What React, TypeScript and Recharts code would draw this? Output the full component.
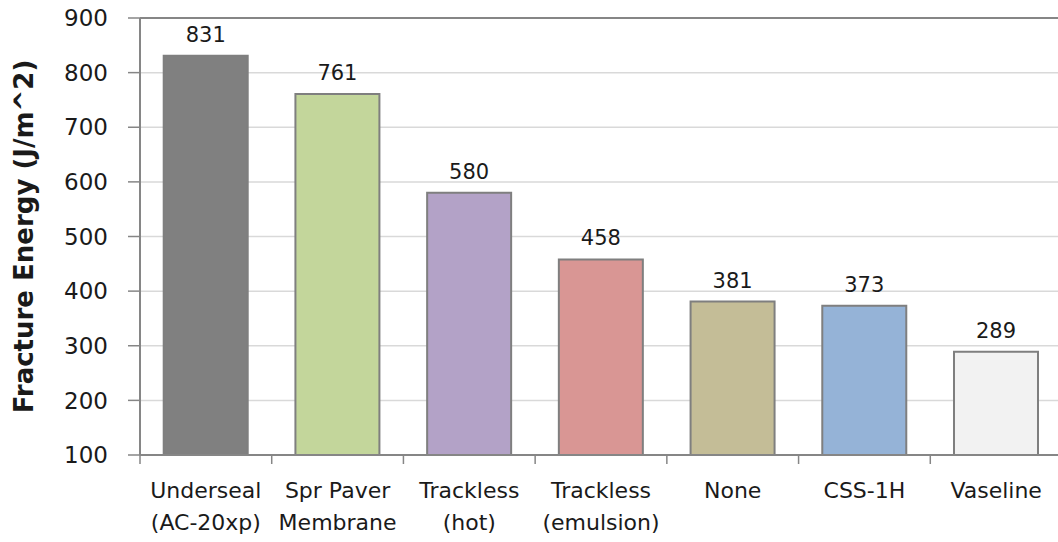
import { BarChart, Bar, XAxis, YAxis, CartesianGrid, Cell, LabelList, ReferenceLine } from 'recharts';

const categories = ['Underseal\n(AC-20xp)', 'Spr Paver\nMembrane', 'Trackless\n(hot)', 'Trackless\n(emulsion)', 'None', 'CSS-1H', 'Vaseline'];
const fractureEnergy = [831, 761, 580, 458, 381, 373, 289];
const barColors = ['#808080', '#c3d69b', '#b3a2c7', '#d99694', '#c4bd97', '#95b3d7', '#f2f2f2'];
const yTicks = [100, 200, 300, 400, 500, 600, 700, 800, 900];

const data = categories.map((name, i) => ({ name, value: fractureEnergy[i] }));

const FONT = '"DejaVu Sans", sans-serif';

function CategoryTick(props: any) {
  const { x, y, payload, index } = props;
  const half = payload?.offset ?? 0;
  const lines = String(payload.value).split('\n');
  return (
    <g>
      <line x1={x - half} y1={y - 8} x2={x - half} y2={y + 1} stroke="#868686" strokeWidth={1.5} />
      {index === categories.length - 1 && (
        <line x1={x + half} y1={y - 8} x2={x + half} y2={y + 1} stroke="#868686" strokeWidth={1.5} />
      )}
      <text x={x} y={y + 35} textAnchor="middle" fontFamily={FONT} fontSize={22} fill="#1a1a1a">
        {lines.map((l, i) => (
          <tspan key={i} x={x} dy={i === 0 ? 0 : 32}>{l}</tspan>
        ))}
      </text>
    </g>
  );
}

export default function App() {
  return (
    <div style={{ position: 'fixed', left: 0, top: 0, width: 1058, height: 542, overflow: 'hidden', background: '#fff' }}>
      <BarChart
        width={1062}
        height={542}
        data={data}
        margin={{ top: 18, right: 0, left: 0, bottom: 0 }}
        barCategoryGap="18%"
      >
        <CartesianGrid horizontal vertical={false} stroke="#d9d9d9" strokeWidth={1.5} />
        <XAxis
          dataKey="name"
          height={87}
          axisLine={{ stroke: '#868686', strokeWidth: 2 }}
          tickLine={false}
          tick={<CategoryTick />}
          interval={0}
        />
        <YAxis
          width={140}
          domain={[100, 900]}
          ticks={yTicks}
          allowDataOverflow
          axisLine={{ stroke: '#868686', strokeWidth: 2 }}
          tickLine={{ stroke: '#868686', strokeWidth: 1.5 }}
          tickSize={12}
          tickMargin={20}
          tick={{ fontFamily: FONT, fontSize: 23, fill: '#1a1a1a' }}
          label={{
            value: 'Fracture Energy (J/m^2)',
            angle: -90,
            position: 'insideLeft',
            dx: 19,
            style: { fontFamily: FONT, fontSize: 26, fontWeight: 'bold', fill: '#1a1a1a', textAnchor: 'middle' },
          }}
        />
        <ReferenceLine y={900} stroke="#868686" strokeWidth={2} />
        <Bar dataKey="value" stroke="#7f7f7f" strokeWidth={2} isAnimationActive={false}>
          {data.map((d, i) => (
            <Cell key={d.name} fill={barColors[i]} />
          ))}
          <LabelList dataKey="value" position="top" offset={14} style={{ fontFamily: FONT, fontSize: 21, fill: '#1a1a1a' }} />
        </Bar>
      </BarChart>
    </div>
  );
}
